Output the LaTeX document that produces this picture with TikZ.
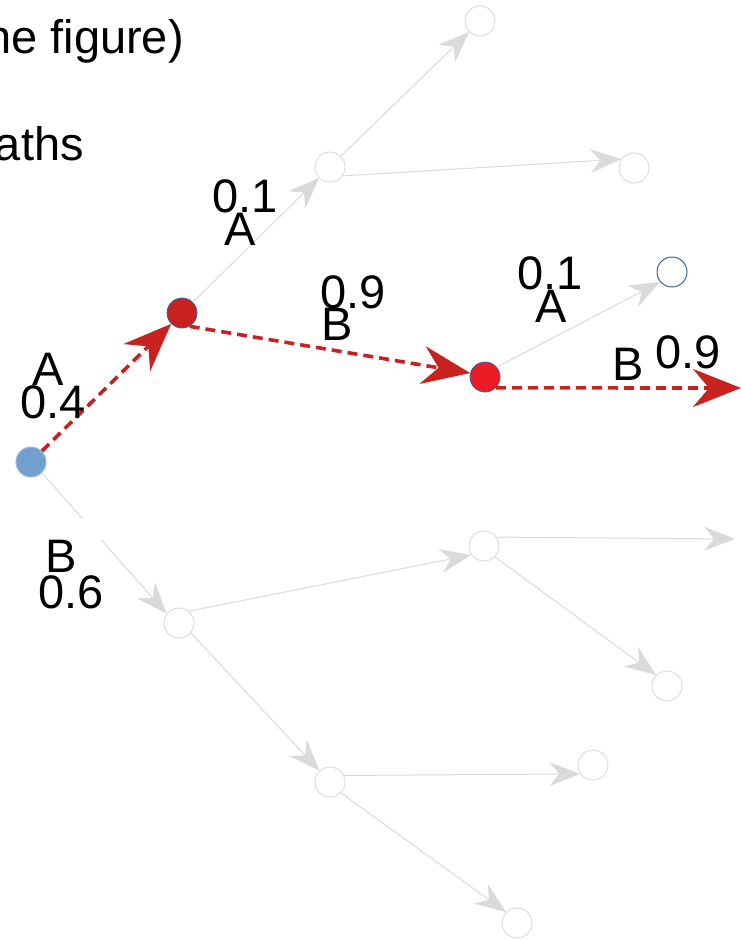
\documentclass[tikz,border=0pt]{standalone}
\usepackage{fontspec}
\setmainfont{Liberation Sans}
\usetikzlibrary{arrows.meta}
\definecolor{edgegray}{HTML}{DADADA}
\definecolor{nodegray}{HTML}{DDDDDD}
\definecolor{redc}{HTML}{C9211E}
\definecolor{redb}{HTML}{ED1C24}
\definecolor{bluefill}{HTML}{729FCF}
\definecolor{blueline}{HTML}{3465A4}
\definecolor{bluelight}{HTML}{9DBBE0}
\begin{document}
\begin{tikzpicture}[x=1pt,y=-1pt,
  font=\fontsize{47}{56}\selectfont,
  gnode/.style={circle,minimum size=30pt,inner sep=0pt,draw=nodegray,line width=1pt,fill=white},
  lbl/.style={inner sep=0pt,anchor=base},
  gedge/.style={draw=edgegray,line width=1pt,-{Stealth[length=31pt,width=24pt,inset=10pt,fill=edgegray]}},
  redge/.style={draw=redc,line width=3.6pt,dash pattern=on 10pt off 6pt,-{Stealth[length=48pt,width=38pt,inset=16pt,fill=redc]}}
]
\useasboundingbox (0,0) rectangle (741,940);

% title fragments
\node[inner sep=0pt,anchor=base east] (t1) at (184,53) {he figure)};
\node[inner sep=0pt,anchor=base east] (t2) at (84,160) {aths};

% nodes
\node[circle,minimum size=30pt,inner sep=0pt,fill=bluefill,draw=bluelight,line width=1pt] (root) at (31,462) {};
\node[circle,minimum size=30pt,inner sep=0pt,fill=redc,draw=blueline,line width=0.8pt] (A1) at (182,313) {};
\node[circle,minimum size=30pt,inner sep=0pt,fill=redb,draw=blueline,line width=0.8pt] (AB) at (485,377) {};
\node[circle,minimum size=30pt,inner sep=0pt,fill=white,draw=blueline,line width=1pt] (ABA) at (672,272) {};
\node[gnode] (B1) at (179,623) {};
\node[gnode] (AA) at (330,167) {};
\node[gnode] (AAA) at (480,21) {};
\node[gnode] (AAB) at (634,168) {};
\node[gnode] (BA) at (484,546) {};
\node[gnode] (BAB) at (667,686) {};
\node[gnode] (BB) at (330,782) {};
\node[gnode] (BBA) at (593,765) {};
\node[gnode] (BBB) at (517,923) {};
\coordinate (ABBend) at (741,388);
\coordinate (BAAend) at (735,539);

% gray edges
\draw[gedge,dash pattern=on 61pt off 28pt on 400pt] (root.-45) -- (B1.143);
\draw[gedge] (A1.45) -- (AA.225);
\draw[gedge] (AA.45) -- (AAA.225);
\draw[gedge] (AA.-35) -- (AAB.145);
\draw[gedge] (AB.40) -- (ABA.220);
\draw[gedge] (B1.50) -- (BA.215);
\draw[gedge] (BA.35) -- (BAAend);
\draw[gedge] (BA.-45) -- (BAB.135);
\draw[gedge] (B1.-40) -- (BB.133);
\draw[gedge] (BB.25) -- (BBA.215);
\draw[gedge] (BB.-45) -- (BBB.135);

% red path
\draw[redge] (root.45) -- (A1.225);
\draw[redge] (A1.-60) -- (AB.165);
\draw[redge] (AB.-45) -- (ABBend);

% labels
\node[lbl] (lA1) at (48,385) {A};
\node[lbl] (lp1) at (53,418) {0.4};
\node[lbl] (lB1) at (61,572) {B};
\node[lbl] (lp2) at (71,608) {0.6};
\node[lbl] (lp3) at (245,212) {0.1};
\node[lbl] (lA2) at (240,245) {A};
\node[lbl] (lp4) at (353,308) {0.9};
\node[lbl] (lB2) at (337,340) {B};
\node[lbl] (lp5) at (550,289) {0.1};
\node[lbl] (lA3) at (551,322) {A};
\node[lbl] (lB3) at (628,380) {B};
\node[lbl] (lp6) at (688,368) {0.9};
\end{tikzpicture}
\end{document}
